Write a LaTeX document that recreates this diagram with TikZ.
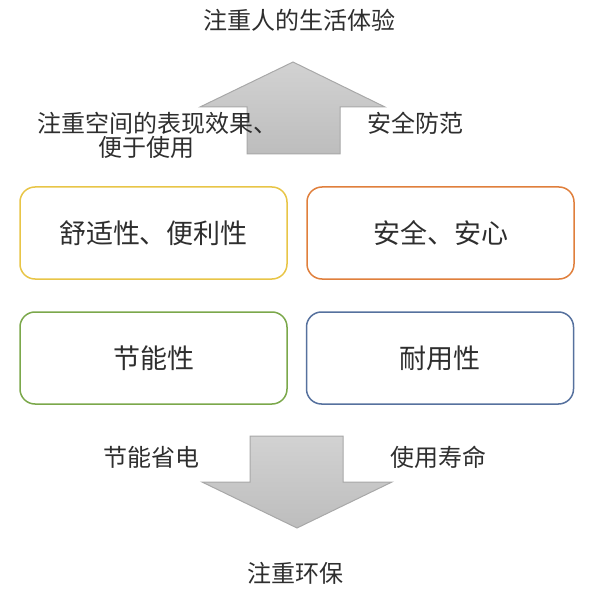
\documentclass[tikz,border=0pt]{standalone}
\usepackage{fontspec}
\setmainfont{Noto Sans CJK SC}
\usetikzlibrary{positioning}
\definecolor{txt}{HTML}{2E2E2E}
\definecolor{cyel}{HTML}{E8C547}
\definecolor{corg}{HTML}{E07F3C}
\definecolor{cgrn}{HTML}{7BA84B}
\definecolor{cblu}{HTML}{56719E}
\definecolor{arrline}{HTML}{A8A8A8}
\definecolor{arrtop}{HTML}{D2D2D2}
\definecolor{arrbot}{HTML}{BDBDBD}
\tikzset{
  lbl/.style={text=txt, font=\fontsize{24}{28}\selectfont, inner sep=0pt},
  boxtxt/.style={text=txt, font=\fontsize{27}{31}\selectfont},
  box/.style={draw=#1, line width=1.5pt, rounded corners=15pt, minimum width=267pt, minimum height=92pt, fill=white},
  blockarrow/.style={draw=arrline, line width=1pt, top color=arrtop, bottom color=arrbot, line join=miter}
}
\begin{document}
\begin{tikzpicture}[x=1pt,y=-1pt]
\useasboundingbox (0,0) rectangle (600,599);
% top arrow
\path[blockarrow] (293,62) -- (385,107) -- (340,107) -- (340,154) -- (247,154) -- (247,107) -- (200,107) -- cycle;
% bottom arrow
\path[blockarrow] (250,436) -- (343,436) -- (343,482) -- (392,482) -- (297,528) -- (202,482) -- (250,482) -- cycle;
% texts
\node[lbl] (top) at (299,20) {注重人的生活体验};
\node[lbl, anchor=west] (l1) at (37,123) {注重空间的表现效果、};
\node[lbl] (l2) at (146.5,147) {便于使用};
\node[lbl] (r1) at (415,123) {安全防范};
\node[lbl] (bl) at (151.5,457) {节能省电};
\node[lbl] (br) at (438.5,457) {使用寿命};
\node[lbl] (bot) at (295,573) {注重环保};
% boxes
\node[box=cyel] (b1) at (153.5,233) {};
\node[boxtxt] at (b1) {舒适性、便利性};
\node[box=corg] (b2) at (440.5,233) {};
\node[boxtxt] at (b2) {安全、安心};
\node[box=cgrn] (b3) at (153.5,358) {};
\node[boxtxt] at (b3) {节能性};
\node[box=cblu] (b4) at (440,358) {};
\node[boxtxt] at (b4) {耐用性};
\end{tikzpicture}
\end{document}
